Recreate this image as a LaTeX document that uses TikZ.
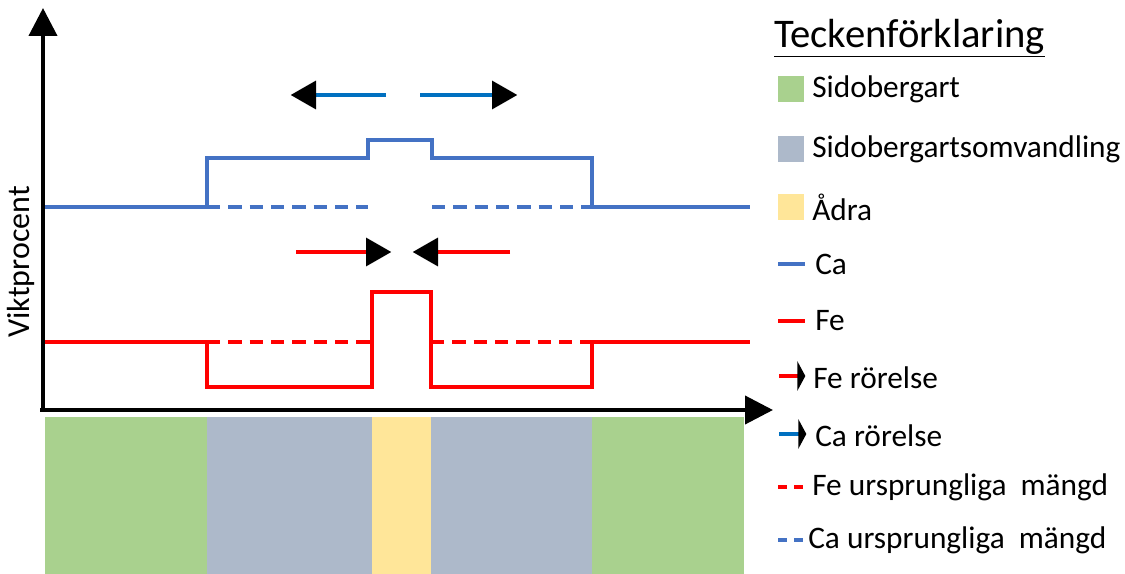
\documentclass[tikz,border=0pt]{standalone}
\usepackage{fontspec}
\setmainfont{Carlito}
\usetikzlibrary{arrows.meta}
\definecolor{caline}{HTML}{4472C4}
\definecolor{camove}{HTML}{0070C0}
\definecolor{feline}{HTML}{FF0000}
\definecolor{sidogreen}{HTML}{A9D18E}
\definecolor{omvgrey}{HTML}{ADB9CA}
\definecolor{adrayellow}{HTML}{FFE699}
\tikzset{
	axis/.style={line width=3pt,-{Triangle[width=21pt,length=21pt]}},
	ca/.style={caline,line width=2.6pt},
	fe/.style={feline,line width=2.8pt},
	cadash/.style={ca,dash pattern=on 10pt off 6pt},
	fedash/.style={fe,dash pattern=on 10pt off 6pt},
	move/.style={line width=2.6pt,-{Triangle[width=21pt,length=19pt,color=black]},shorten >=-1pt},
	legmove/.style={line width=2.6pt,-{Triangle[width=22pt,length=6pt,color=black]},shorten >=-1pt},
	legtext/.style={anchor=west,inner sep=0pt,font=\fontsize{23.5}{28}\selectfont},
	legbox/.style={minimum width=19pt,minimum height=19pt,inner sep=0pt}
}
\begin{document}
\begin{tikzpicture}[x=0.75pt,y=-0.75pt]
				\useasboundingbox (0,0) rectangle (1125,574);
				% bottom strip
				\fill[sidogreen] (45,417) rectangle (207,574);
				\fill[omvgrey] (207,417) rectangle (372,574);
				\fill[adrayellow] (372,417) rectangle (431,574);
				\fill[omvgrey] (431,417) rectangle (592,574);
				\fill[sidogreen] (592,417) rectangle (744,574);
				% axes
				\coordinate (O) at (43,410);
				\coordinate (Ytop) at (43,8);
				\coordinate (Xend) at (773,410);
				\draw[axis] (O) -- (Ytop);
				\draw[axis] ([xshift=-2pt]O) -- (Xend);
				\node[rotate=90,font=\fontsize{24}{28}\selectfont] (ylab) at (21,262) {Viktprocent};
				% Ca
				\draw[cadash] (207,207) -- (368,207);
				\draw[cadash] (432,207) -- (592,207);
				\draw[ca] (45,207) -- (207,207) -- (207,158) -- (368,158) -- (368,140)
					-- (432,140) -- (432,158) -- (592,158) -- (592,207) -- (750,207);
				% Fe
				\draw[fedash] (207,342) -- (372,342);
				\draw[fedash] (431,342) -- (592,342);
				\draw[fe] (45,342) -- (207,342) -- (207,387) -- (372,387) -- (372,292)
					-- (431,292) -- (431,387) -- (592,387) -- (592,342) -- (750,342);
				% movement
				\coordinate (ca1) at (386,95);
				\coordinate (ca2) at (292,95);
				\coordinate (ca3) at (420,95);
				\coordinate (ca4) at (516,95);
				\coordinate (fe1) at (296,252);
				\coordinate (fe2) at (390,252);
				\coordinate (fe3) at (510,252);
				\coordinate (fe4) at (414,252);
				\draw[move,camove] (ca1) -- (ca2);
				\draw[move,camove] (ca3) -- (ca4);
				\draw[move,feline] (fe1) -- (fe2);
				\draw[move,feline] (fe3) -- (fe4);
				% legend
				\node[anchor=west,inner sep=0pt,font=\fontsize{30.5}{34}\selectfont] (title) at (774,38) {\underline{Teckenförklaring}};
				\node[legbox,fill=sidogreen] (b1) at (791,89) {};
				\node[legtext] (t1) at (812,89) {Sidobergart};
				\node[legbox,fill=omvgrey] (b2) at (791,149) {};
				\node[legtext] (t2) at (812,149) {Sidobergartsomvandling};
				\node[legbox,fill=adrayellow] (b3) at (791,207) {};
				\node[legtext] (t3) at (812,207) {Ådra};
				\coordinate (l4a) at (778,264);
				\coordinate (l4b) at (805,264);
				\draw[ca] (l4a) -- (l4b);
				\node[legtext] (t4) at (815,264) {Ca};
				\coordinate (l5a) at (778,321);
				\coordinate (l5b) at (805,321);
				\draw[fe] (l5a) -- (l5b);
				\node[legtext] (t5) at (815,321) {Fe};
				\coordinate (l6a) at (779,376);
				\coordinate (l6b) at (804,376);
				\draw[legmove,feline] (l6a) -- (l6b);
				\node[legtext] (t6) at (813,378) {Fe rörelse};
				\coordinate (l7a) at (779,434);
				\coordinate (l7b) at (805,434);
				\draw[legmove,camove] (l7a) -- (l7b);
				\node[legtext] (t7) at (815,436) {Ca rörelse};
				\coordinate (l8a) at (778,487);
				\coordinate (l8b) at (805,487);
				\draw[feline,line width=2.6pt,dash pattern=on 7pt off 5pt] (l8a) -- (l8b);
				\node[legtext] (t8) at (812,487) {Fe ursprungliga\ \ mängd};
				\coordinate (l9a) at (778,540);
				\coordinate (l9b) at (805,540);
				\draw[caline,line width=2.6pt,dash pattern=on 7pt off 5pt] (l9a) -- (l9b);
				\node[legtext] (t9) at (808,540) {Ca ursprungliga\ \ mängd};
			\end{tikzpicture}
\end{document}
